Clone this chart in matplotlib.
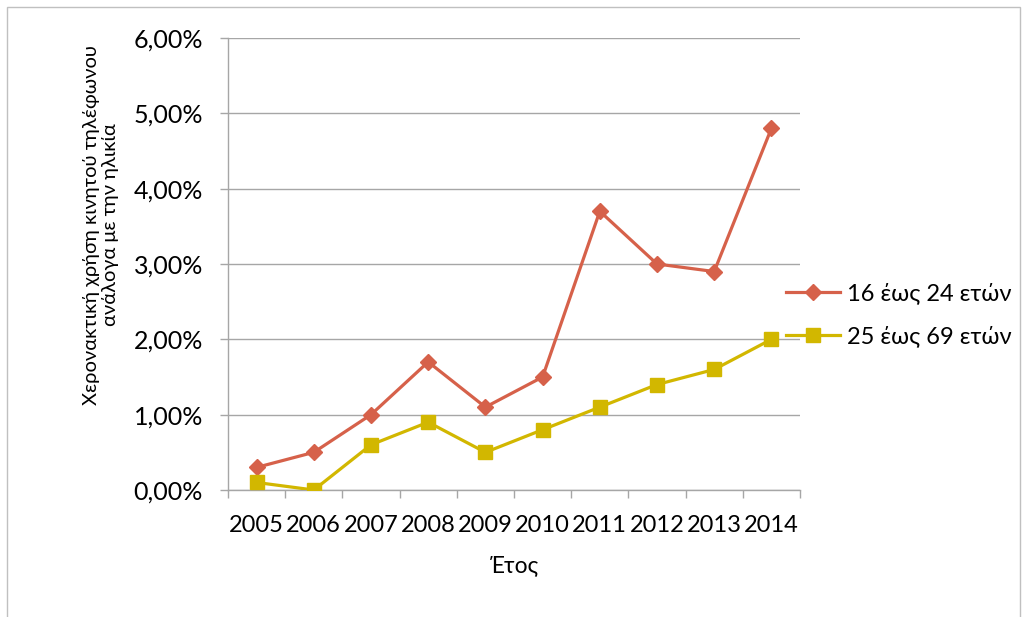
import matplotlib
matplotlib.use("Agg")
import matplotlib.pyplot as plt
from matplotlib.ticker import FixedLocator, FuncFormatter
from matplotlib.patches import Rectangle

years = ["2005", "2006", "2007", "2008", "2009", "2010", "2011", "2012", "2013", "2014"]
ages_16_24 = [0.3, 0.5, 1.0, 1.7, 1.1, 1.5, 3.7, 3.0, 2.9, 4.8]
ages_25_69 = [0.1, 0.0, 0.6, 0.9, 0.5, 0.8, 1.1, 1.4, 1.6, 2.0]
series_names = ["16 έως 24 ετών", "25 έως 69 ετών"]
y_ticks = [0, 1, 2, 3, 4, 5, 6]

plt.rcParams['font.family'] = ['Lato', 'DejaVu Sans']

W, H = 1027, 617
fig = plt.figure(figsize=(W / 100, H / 100), dpi=100)
ax = fig.add_axes([228 / W, 1 - 490 / H, (800 - 228) / W, (490 - 38) / H])

red = '#D6614A'
yellow = '#D2B700'
grid = '#A6A6A6'

x = list(range(len(years)))
ax.plot(x, ages_16_24, color=red, lw=2.3, marker='D', ms=8.5,
        label=series_names[0], zorder=3)
ax.plot(x, ages_25_69, color=yellow, lw=2.3, marker='s', ms=10,
        label=series_names[1], zorder=3)

ax.set_xlim(-0.5, len(years) - 0.5)
ax.set_ylim(0, 6)

# category boundaries carry the tick marks, centres carry the labels
ax.xaxis.set_major_locator(FixedLocator([i - 0.5 for i in range(len(years) + 1)]))
ax.xaxis.set_major_formatter(FuncFormatter(lambda v, p: ""))
ax.set_xticks(x, years, minor=True)
ax.tick_params(axis='x', which='major', length=6, width=1, color=grid, direction='out')
ax.tick_params(axis='x', which='minor', length=0, labelsize=17, pad=18)

ax.set_yticks(y_ticks)
ax.yaxis.set_major_formatter(FuncFormatter(lambda v, p: f"{v:.2f}".replace('.', ',') + "%"))
ax.tick_params(axis='y', length=6, width=1, color=grid, labelsize=18, pad=12)
ax.yaxis.grid(True, color=grid, lw=1)
ax.set_axisbelow(True)

for s in ['top', 'right']:
    ax.spines[s].set_visible(False)
for s in ['left', 'bottom']:
    ax.spines[s].set_color(grid)
    ax.spines[s].set_linewidth(1)

ax.set_xlabel("Έτος", fontsize=16.5)
ax.xaxis.set_label_coords(0.5, -(566 - 490) / 452, transform=ax.transAxes)
ax.xaxis.label.set_va('center')
ax.set_ylabel("Χερονακτική χρήση κινητού τηλέφωνου\nανάλογα με την ηλικία",
              fontsize=14.5, linespacing=1.15)
ax.yaxis.set_label_coords(-(228 - 101) / 572, 1 - (225 - 38) / 452, transform=ax.transAxes)
ax.yaxis.label.set_va('center')

leg = ax.legend(loc='center left', bbox_to_anchor=((786 - 228) / 572, 1 - (314.5 - 38) / 452),
                frameon=False, fontsize=17, handlelength=2.3, handletextpad=0.3,
                labelspacing=0.9, borderaxespad=0, borderpad=0)

fig.patches.append(Rectangle((7 / W, -0.01), (1020 - 7) / W, 1 - 7 / H + 0.01,
                             transform=fig.transFigure, fill=False,
                             edgecolor='#C0C0C0', lw=1))

fig.savefig("out.png", dpi=100)
